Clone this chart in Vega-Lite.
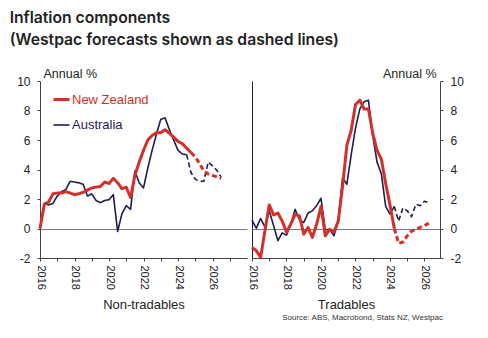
{
  "$schema": "https://vega.github.io/schema/vega-lite/v6.json",
  "background": "white",
  "padding": {"left": 9, "top": 10, "right": 5, "bottom": 5},
  "title": {
    "text": ["Inflation components", "(Westpac forecasts shown as dashed lines)"],
    "anchor": "start", "frame": "bounds", "dx": -7,
    "font": "Inter", "fontSize": 15.7, "fontWeight": 600, "color": "#222222",
    "lineHeight": 22, "offset": 18
  },
  "data": {"values": [
    {"p":"N","c":"Australia","k":"a","t":2016,"v":0},
    {"p":"N","c":"Australia","k":"a","t":2016.25,"v":1.7},
    {"p":"N","c":"Australia","k":"a","t":2016.5,"v":1.6},
    {"p":"N","c":"Australia","k":"a","t":2016.75,"v":1.7},
    {"p":"N","c":"Australia","k":"a","t":2017,"v":2.2},
    {"p":"N","c":"Australia","k":"a","t":2017.25,"v":2.5},
    {"p":"N","c":"Australia","k":"a","t":2017.5,"v":2.65},
    {"p":"N","c":"Australia","k":"a","t":2017.75,"v":3.2},
    {"p":"N","c":"Australia","k":"a","t":2018,"v":3.15},
    {"p":"N","c":"Australia","k":"a","t":2018.25,"v":3.1},
    {"p":"N","c":"Australia","k":"a","t":2018.5,"v":3.0},
    {"p":"N","c":"Australia","k":"a","t":2018.75,"v":2.2},
    {"p":"N","c":"Australia","k":"a","t":2019,"v":2.35},
    {"p":"N","c":"Australia","k":"a","t":2019.25,"v":1.9},
    {"p":"N","c":"Australia","k":"a","t":2019.5,"v":1.75},
    {"p":"N","c":"Australia","k":"a","t":2019.75,"v":1.9},
    {"p":"N","c":"Australia","k":"a","t":2020,"v":1.95},
    {"p":"N","c":"Australia","k":"a","t":2020.25,"v":2.3},
    {"p":"N","c":"Australia","k":"a","t":2020.5,"v":-0.2},
    {"p":"N","c":"Australia","k":"a","t":2020.75,"v":1.0},
    {"p":"N","c":"Australia","k":"a","t":2021,"v":1.55},
    {"p":"N","c":"Australia","k":"a","t":2021.25,"v":1.3},
    {"p":"N","c":"Australia","k":"a","t":2021.5,"v":3.9},
    {"p":"N","c":"Australia","k":"a","t":2021.75,"v":3.1},
    {"p":"N","c":"Australia","k":"a","t":2022,"v":2.75},
    {"p":"N","c":"Australia","k":"a","t":2022.25,"v":4.1},
    {"p":"N","c":"Australia","k":"a","t":2022.5,"v":5.3},
    {"p":"N","c":"Australia","k":"a","t":2022.75,"v":6.4},
    {"p":"N","c":"Australia","k":"a","t":2023,"v":7.4},
    {"p":"N","c":"Australia","k":"a","t":2023.25,"v":7.5},
    {"p":"N","c":"Australia","k":"a","t":2023.5,"v":6.7},
    {"p":"N","c":"Australia","k":"a","t":2023.75,"v":6.0},
    {"p":"N","c":"Australia","k":"a","t":2024,"v":5.3},
    {"p":"N","c":"Australia","k":"a","t":2024.25,"v":5.05},
    {"p":"N","c":"Australia","k":"a","t":2024.5,"v":5.0},
    {"p":"N","c":"Australia","k":"f","t":2024.5,"v":5.0},
    {"p":"N","c":"Australia","k":"f","t":2024.75,"v":3.8},
    {"p":"N","c":"Australia","k":"f","t":2025,"v":3.35},
    {"p":"N","c":"Australia","k":"f","t":2025.25,"v":3.2},
    {"p":"N","c":"Australia","k":"f","t":2025.5,"v":3.2},
    {"p":"N","c":"Australia","k":"f","t":2025.75,"v":4.5},
    {"p":"N","c":"Australia","k":"f","t":2026,"v":4.25},
    {"p":"N","c":"Australia","k":"f","t":2026.25,"v":3.95},
    {"p":"N","c":"Australia","k":"f","t":2026.5,"v":3.5},

    {"p":"N","c":"New Zealand","k":"a","t":2016,"v":0},
    {"p":"N","c":"New Zealand","k":"a","t":2016.25,"v":1.65},
    {"p":"N","c":"New Zealand","k":"a","t":2016.5,"v":1.8},
    {"p":"N","c":"New Zealand","k":"a","t":2016.75,"v":2.35},
    {"p":"N","c":"New Zealand","k":"a","t":2017,"v":2.4},
    {"p":"N","c":"New Zealand","k":"a","t":2017.25,"v":2.4},
    {"p":"N","c":"New Zealand","k":"a","t":2017.5,"v":2.5},
    {"p":"N","c":"New Zealand","k":"a","t":2017.75,"v":2.4},
    {"p":"N","c":"New Zealand","k":"a","t":2018,"v":2.3},
    {"p":"N","c":"New Zealand","k":"a","t":2018.25,"v":2.35},
    {"p":"N","c":"New Zealand","k":"a","t":2018.5,"v":2.45},
    {"p":"N","c":"New Zealand","k":"a","t":2018.75,"v":2.6},
    {"p":"N","c":"New Zealand","k":"a","t":2019,"v":2.75},
    {"p":"N","c":"New Zealand","k":"a","t":2019.25,"v":2.8},
    {"p":"N","c":"New Zealand","k":"a","t":2019.5,"v":2.85},
    {"p":"N","c":"New Zealand","k":"a","t":2019.75,"v":3.15},
    {"p":"N","c":"New Zealand","k":"a","t":2020,"v":3.05},
    {"p":"N","c":"New Zealand","k":"a","t":2020.25,"v":3.4},
    {"p":"N","c":"New Zealand","k":"a","t":2020.5,"v":3.1},
    {"p":"N","c":"New Zealand","k":"a","t":2020.75,"v":2.7},
    {"p":"N","c":"New Zealand","k":"a","t":2021,"v":2.8},
    {"p":"N","c":"New Zealand","k":"a","t":2021.25,"v":2.1},
    {"p":"N","c":"New Zealand","k":"a","t":2021.5,"v":3.6},
    {"p":"N","c":"New Zealand","k":"a","t":2021.75,"v":4.5},
    {"p":"N","c":"New Zealand","k":"a","t":2022,"v":5.3},
    {"p":"N","c":"New Zealand","k":"a","t":2022.25,"v":6.0},
    {"p":"N","c":"New Zealand","k":"a","t":2022.5,"v":6.3},
    {"p":"N","c":"New Zealand","k":"a","t":2022.75,"v":6.5},
    {"p":"N","c":"New Zealand","k":"a","t":2023,"v":6.5},
    {"p":"N","c":"New Zealand","k":"a","t":2023.25,"v":6.7},
    {"p":"N","c":"New Zealand","k":"a","t":2023.5,"v":6.45},
    {"p":"N","c":"New Zealand","k":"a","t":2023.75,"v":6.2},
    {"p":"N","c":"New Zealand","k":"a","t":2024,"v":5.9},
    {"p":"N","c":"New Zealand","k":"a","t":2024.25,"v":5.75},
    {"p":"N","c":"New Zealand","k":"a","t":2024.5,"v":5.45},
    {"p":"N","c":"New Zealand","k":"a","t":2024.75,"v":5.15},
    {"p":"N","c":"New Zealand","k":"f","t":2024.75,"v":5.15},
    {"p":"N","c":"New Zealand","k":"f","t":2025,"v":4.85},
    {"p":"N","c":"New Zealand","k":"f","t":2025.25,"v":4.4},
    {"p":"N","c":"New Zealand","k":"f","t":2025.5,"v":3.9},
    {"p":"N","c":"New Zealand","k":"f","t":2025.75,"v":3.7},
    {"p":"N","c":"New Zealand","k":"f","t":2026,"v":3.6},
    {"p":"N","c":"New Zealand","k":"f","t":2026.25,"v":3.5},
    {"p":"N","c":"New Zealand","k":"f","t":2026.5,"v":3.4},

    {"p":"T","c":"Australia","k":"a","t":2016,"v":0.56},
    {"p":"T","c":"Australia","k":"a","t":2016.25,"v":0.02},
    {"p":"T","c":"Australia","k":"a","t":2016.5,"v":0.68},
    {"p":"T","c":"Australia","k":"a","t":2016.75,"v":0.1},
    {"p":"T","c":"Australia","k":"a","t":2017,"v":1.2},
    {"p":"T","c":"Australia","k":"a","t":2017.25,"v":0.2},
    {"p":"T","c":"Australia","k":"a","t":2017.5,"v":-0.82},
    {"p":"T","c":"Australia","k":"a","t":2017.75,"v":-0.3},
    {"p":"T","c":"Australia","k":"a","t":2018,"v":-0.45},
    {"p":"T","c":"Australia","k":"a","t":2018.25,"v":0.3},
    {"p":"T","c":"Australia","k":"a","t":2018.5,"v":1.3},
    {"p":"T","c":"Australia","k":"a","t":2018.75,"v":0.6},
    {"p":"T","c":"Australia","k":"a","t":2019,"v":0.4},
    {"p":"T","c":"Australia","k":"a","t":2019.25,"v":1.05},
    {"p":"T","c":"Australia","k":"a","t":2019.5,"v":1.2},
    {"p":"T","c":"Australia","k":"a","t":2019.75,"v":1.55},
    {"p":"T","c":"Australia","k":"a","t":2020,"v":2.05},
    {"p":"T","c":"Australia","k":"a","t":2020.25,"v":-0.1},
    {"p":"T","c":"Australia","k":"a","t":2020.5,"v":-0.05},
    {"p":"T","c":"Australia","k":"a","t":2020.75,"v":-0.5},
    {"p":"T","c":"Australia","k":"a","t":2021,"v":0.5},
    {"p":"T","c":"Australia","k":"a","t":2021.25,"v":3.45},
    {"p":"T","c":"Australia","k":"a","t":2021.5,"v":3.0},
    {"p":"T","c":"Australia","k":"a","t":2021.75,"v":5.0},
    {"p":"T","c":"Australia","k":"a","t":2022,"v":6.8},
    {"p":"T","c":"Australia","k":"a","t":2022.25,"v":8.1},
    {"p":"T","c":"Australia","k":"a","t":2022.5,"v":8.6},
    {"p":"T","c":"Australia","k":"a","t":2022.75,"v":8.7},
    {"p":"T","c":"Australia","k":"a","t":2023,"v":6.3},
    {"p":"T","c":"Australia","k":"a","t":2023.25,"v":4.5},
    {"p":"T","c":"Australia","k":"a","t":2023.5,"v":3.7},
    {"p":"T","c":"Australia","k":"a","t":2023.75,"v":1.5},
    {"p":"T","c":"Australia","k":"a","t":2024,"v":0.97},
    {"p":"T","c":"Australia","k":"a","t":2024.25,"v":1.5},
    {"p":"T","c":"Australia","k":"f","t":2024.25,"v":1.5},
    {"p":"T","c":"Australia","k":"f","t":2024.5,"v":0.5},
    {"p":"T","c":"Australia","k":"f","t":2024.75,"v":1.4},
    {"p":"T","c":"Australia","k":"f","t":2025,"v":1.2},
    {"p":"T","c":"Australia","k":"f","t":2025.25,"v":0.8},
    {"p":"T","c":"Australia","k":"f","t":2025.5,"v":1.65},
    {"p":"T","c":"Australia","k":"f","t":2025.75,"v":1.55},
    {"p":"T","c":"Australia","k":"f","t":2026,"v":1.85},
    {"p":"T","c":"Australia","k":"f","t":2026.25,"v":1.75},

    {"p":"T","c":"New Zealand","k":"a","t":2016,"v":-1.28},
    {"p":"T","c":"New Zealand","k":"a","t":2016.25,"v":-1.5},
    {"p":"T","c":"New Zealand","k":"a","t":2016.5,"v":-1.96},
    {"p":"T","c":"New Zealand","k":"a","t":2016.75,"v":-0.15},
    {"p":"T","c":"New Zealand","k":"a","t":2017,"v":1.6},
    {"p":"T","c":"New Zealand","k":"a","t":2017.25,"v":0.92},
    {"p":"T","c":"New Zealand","k":"a","t":2017.5,"v":1.05},
    {"p":"T","c":"New Zealand","k":"a","t":2017.75,"v":0.5},
    {"p":"T","c":"New Zealand","k":"a","t":2018,"v":-0.25},
    {"p":"T","c":"New Zealand","k":"a","t":2018.25,"v":0.3},
    {"p":"T","c":"New Zealand","k":"a","t":2018.5,"v":0.95},
    {"p":"T","c":"New Zealand","k":"a","t":2018.75,"v":0.85},
    {"p":"T","c":"New Zealand","k":"a","t":2019,"v":-0.38},
    {"p":"T","c":"New Zealand","k":"a","t":2019.25,"v":0.07},
    {"p":"T","c":"New Zealand","k":"a","t":2019.5,"v":-0.6},
    {"p":"T","c":"New Zealand","k":"a","t":2019.75,"v":0.3},
    {"p":"T","c":"New Zealand","k":"a","t":2020,"v":1.5},
    {"p":"T","c":"New Zealand","k":"a","t":2020.25,"v":-0.5},
    {"p":"T","c":"New Zealand","k":"a","t":2020.5,"v":-0.05},
    {"p":"T","c":"New Zealand","k":"a","t":2020.75,"v":-0.25},
    {"p":"T","c":"New Zealand","k":"a","t":2021,"v":0.5},
    {"p":"T","c":"New Zealand","k":"a","t":2021.25,"v":2.85},
    {"p":"T","c":"New Zealand","k":"a","t":2021.5,"v":5.65},
    {"p":"T","c":"New Zealand","k":"a","t":2021.75,"v":6.65},
    {"p":"T","c":"New Zealand","k":"a","t":2022,"v":8.4},
    {"p":"T","c":"New Zealand","k":"a","t":2022.25,"v":8.7},
    {"p":"T","c":"New Zealand","k":"a","t":2022.5,"v":8.1},
    {"p":"T","c":"New Zealand","k":"a","t":2022.75,"v":8.1},
    {"p":"T","c":"New Zealand","k":"a","t":2023,"v":6.45},
    {"p":"T","c":"New Zealand","k":"a","t":2023.25,"v":5.3},
    {"p":"T","c":"New Zealand","k":"a","t":2023.5,"v":4.7},
    {"p":"T","c":"New Zealand","k":"a","t":2023.75,"v":3.05},
    {"p":"T","c":"New Zealand","k":"a","t":2024,"v":1.6},
    {"p":"T","c":"New Zealand","k":"a","t":2024.25,"v":0.0},
    {"p":"T","c":"New Zealand","k":"f","t":2024.25,"v":0.0},
    {"p":"T","c":"New Zealand","k":"f","t":2024.5,"v":-1.0},
    {"p":"T","c":"New Zealand","k":"f","t":2024.75,"v":-0.92},
    {"p":"T","c":"New Zealand","k":"f","t":2025,"v":-0.5},
    {"p":"T","c":"New Zealand","k":"f","t":2025.25,"v":-0.18},
    {"p":"T","c":"New Zealand","k":"f","t":2025.5,"v":-0.05},
    {"p":"T","c":"New Zealand","k":"f","t":2025.75,"v":0.07},
    {"p":"T","c":"New Zealand","k":"f","t":2026,"v":0.2},
    {"p":"T","c":"New Zealand","k":"f","t":2026.25,"v":0.36}
  ]},
  "spacing": 0,
  "resolve": {
    "scale": {"x": "independent", "y": "independent", "color": "independent", "strokeWidth": "independent", "strokeDash": "independent"},
    "axis": {"x": "independent", "y": "independent"},
    "legend": {"color": "independent"}
  },
  "hconcat": [
    {
      "width": 207,
      "height": 177,
      "transform": [{"filter": "datum.p == 'N'"}],
      "mark": {"type": "line", "strokeCap": "butt", "strokeJoin": "round"},
      "encoding": {
        "x": {
          "field": "t", "type": "quantitative",
          "scale": {"domain": [2016, 2028], "nice": false, "zero": false},
          "axis": {
            "values": [2016, 2017, 2018, 2019, 2020, 2021, 2022, 2023, 2024, 2025, 2026, 2027],
            "labelExpr": "datum.value % 2 === 0 ? '' + datum.value : ''",
            "title": "Non-tradables"
          }
        },
        "y": {
          "field": "v", "type": "quantitative",
          "scale": {"domain": [-2, 10], "nice": false, "zero": false},
          "axis": {
            "orient": "left",
            "values": [-2, 0, 2, 4, 6, 8, 10],
            "labelExpr": "'' + datum.value",
            "title": "Annual %",
            "titleX": 3, "titleY": -8, "titleAlign": "left"
          }
        },
        "color": {
          "field": "c", "type": "nominal",
          "scale": {"domain": ["New Zealand", "Australia"], "range": ["#d4302b", "#1e1d50"]},
          "legend": {
            "orient": "none", "legendX": 12, "legendY": 9, "title": null,
            "symbolType": "stroke", "symbolSize": 256, "labelFontSize": 13,
            "labelOffset": 1, "rowPadding": 9, "labelFont": "Liberation Sans",
            "encode": {
              "labels": {"update": {"fill": {"signal": "datum.label === 'New Zealand' ? '#d4302b' : '#1e1d50'"}}},
              "symbols": {"update": {"strokeWidth": {"signal": "datum.value === 'New Zealand' ? 3.2 : 1.6"}}}
            }
          }
        },
        "strokeWidth": {
          "field": "c", "type": "nominal",
          "scale": {"domain": ["New Zealand", "Australia"], "range": [3, 1.6]},
          "legend": null
        },
        "strokeDash": {
          "field": "k", "type": "nominal",
          "scale": {"domain": ["a", "f"], "range": [[1, 0], [5, 3]]},
          "legend": null
        }
      }
    },
    {
      "width": 188,
      "height": 177,
      "title": {
        "text": "Source: ABS, Macrobond, Stats NZ, Westpac",
        "orient": "bottom", "anchor": "end", "frame": "group", "font": "Liberation Sans",
        "fontSize": 8, "fontWeight": "normal", "color": "#333333", "offset": 3, "dx": 3
      },
      "transform": [{"filter": "datum.p == 'T'"}],
      "mark": {"type": "line", "strokeCap": "butt", "strokeJoin": "round"},
      "encoding": {
        "x": {
          "field": "t", "type": "quantitative",
          "scale": {"domain": [2016, 2026.9], "nice": false, "zero": false},
          "axis": {
            "values": [2016, 2017, 2018, 2019, 2020, 2021, 2022, 2023, 2024, 2025, 2026],
            "labelExpr": "datum.value % 2 === 0 ? '' + datum.value : ''",
            "title": "Tradables",
            "grid": true,
            "gridColor": {"condition": {"test": "datum.value === 2016", "value": "#222222"}, "value": "transparent"},
            "gridWidth": 1
          }
        },
        "y": {
          "field": "v", "type": "quantitative",
          "scale": {"domain": [-2, 10], "nice": false, "zero": false},
          "axis": {
            "orient": "right",
            "values": [-2, 0, 2, 4, 6, 8, 10],
            "labelExpr": "'' + datum.value",
            "title": "Annual %",
            "titleX": -4, "titleY": -8, "titleAlign": "right"
          }
        },
        "color": {
          "field": "c", "type": "nominal",
          "scale": {"domain": ["New Zealand", "Australia"], "range": ["#d4302b", "#1e1d50"]},
          "legend": null
        },
        "strokeWidth": {
          "field": "c", "type": "nominal",
          "scale": {"domain": ["New Zealand", "Australia"], "range": [3, 1.6]},
          "legend": null
        },
        "strokeDash": {
          "field": "k", "type": "nominal",
          "scale": {"domain": ["a", "f"], "range": [[1, 0], [5, 3]]},
          "legend": null
        }
      }
    }
  ],
  "config": {
    "font": "Liberation Sans",
    "view": {"stroke": null},
    "axis": {
      "domainColor": "#444444",
      "tickColor": "#444444",
      "tickSize": 3,
      "labelColor": "#222222",
      "titleColor": "#222222",
      "titleFontWeight": "normal",
      "titleFont": "Liberation Sans",
      "labelFont": "Liberation Sans"
    },
    "axisX": {
      "labelAngle": 90,
      "labelFontSize": 11,
      "labelPadding": 4,
      "labelFlush": false,
      "labelOverlap": false,
      "labelBound": false,
      "titleFontSize": 13,
      "titlePadding": 9,
      "grid": false
    },
    "axisY": {
      "labelFontSize": 12,
      "labelPadding": 7,
      "titleFontSize": 12.5,
      "titleAngle": 0,
      "titleBaseline": "middle",
      "grid": true,
      "gridColor": {"condition": {"test": "datum.value === 0", "value": "#7a7a7a"}, "value": "transparent"},
      "gridWidth": 1
    }
  }
}
